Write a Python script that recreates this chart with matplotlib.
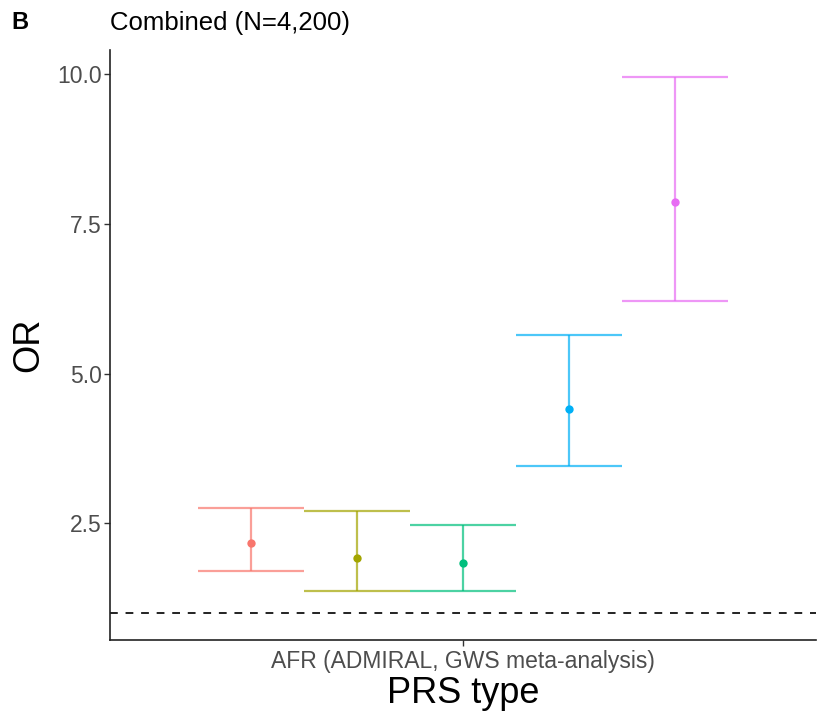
import numpy as np
import matplotlib
matplotlib.use("Agg")
import matplotlib.pyplot as plt

plt.rcParams["font.family"] = ["Liberation Sans", "DejaVu Sans"]

# -----------------------------------------------------------------------------
# Data
# -----------------------------------------------------------------------------

category = "AFR (ADMIRAL, GWS meta-analysis)"
groups = ["g1", "g2", "g3", "g4", "g5"]
colors = ["#F8766D", "#A3A500", "#00BF7D", "#00B0F6", "#E76BF3"]
or_est = [2.17, 1.92, 1.84, 4.41, 7.86]
or_low = [1.70, 1.37, 1.37, 3.46, 6.21]
or_high = [2.76, 2.71, 2.47, 5.64, 9.955]
ref_line = 1.0
yticks = [2.5, 5.0, 7.5, 10.0]

# -----------------------------------------------------------------------------
# Plot
# -----------------------------------------------------------------------------

fig = plt.figure(figsize=(8.19, 7.12), dpi=100)
ax = fig.add_axes([0.1343, 0.1011, 0.862, 0.8287])

dodge = 0.9
n = len(groups)
step = dodge / n
x0 = 1.0
for i, (c, est, lo, hi) in enumerate(zip(colors, or_est, or_low, or_high)):
    xc = x0 - dodge / 2 + step * (i + 0.5)
    ax.vlines(xc, lo, hi, color=c, lw=1.6, alpha=0.7)
    ax.hlines([lo, hi], xc - step / 2, xc + step / 2, color=c, lw=1.6, alpha=0.7)
    ax.plot(xc, est, "o", color=c, ms=6, mec="none")

ax.axhline(ref_line, color="#222222", lw=1.4, ls=(0, (4, 4)))

ymin = min(or_low + [ref_line])
ymax = max(or_high + [ref_line])
pad = 0.05 * (ymax - ymin)
ax.set_ylim(ymin - pad, ymax + pad)
ax.set_xlim(0.4, 1.6)

ax.set_xticks([1.0])
ax.set_xticklabels([category])
ax.set_yticks(yticks)
ax.set_yticklabels(["{:.1f}".format(v) for v in yticks])
ax.tick_params(axis="both", colors="#333333", labelcolor="#4D4D4D",
               labelsize=16.5, length=4, width=1, pad=2)
ax.tick_params(axis="x", labelsize=16.5, pad=3)

for side in ["top", "right"]:
    ax.spines[side].set_visible(False)
for side in ["left", "bottom"]:
    ax.spines[side].set_color("#222222")
    ax.spines[side].set_linewidth(1.2)

ax.set_xlabel("PRS type", fontsize=26, labelpad=2)
ax.set_ylabel("OR", fontsize=26, labelpad=8)

fig.text(0.014, 0.968, "B", fontsize=17, fontweight="bold", va="center")
fig.text(0.134, 0.968, "Combined (N=4,200)", fontsize=18.5, va="center")

fig.savefig("out.png", dpi=100)
